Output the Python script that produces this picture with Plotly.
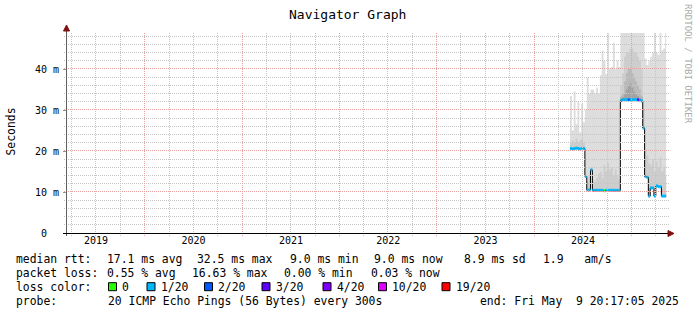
import math
import plotly.graph_objects as go
import pandas as pd

# ---------------- data ----------------
WEEK_START = "2024-05-14"          # first weekly row of the smokeping RRD
DATA_END = "2025-05-09 20:17:05"    # graph end time

# median round trip time per week (ms)
median_ms = [20.6, 20.5, 20.6, 20.7, 20.6, 20.5, 20.6, 20.6,
             13.8, 10.5, 10.5, 15.4, 10.4, 10.4, 10.4, 10.4, 10.4, 10.4, 10.3, 10.4,
             10.4, 10.4, 10.4, 10.4, 10.4, 10.4, 10.4,
             32.3, 32.5, 32.5, 32.5, 32.5, 32.5, 32.5, 32.5, 32.5, 32.5, 32.4, 32.2,
             25.6,
             13.8, 13.6, 9.0, 11.0, 11.0, 9.0, 11.5, 11.3, 11.3, 9.0, 9.0, 9.0]

# loss colour class per week (index into LOSS_LABELS)
loss_idx = [1, 1, 1, 1, 1, 1, 1, 1,
            1, 1, 1, 1, 1, 1, 1, 1, 1, 1, 0, 1,
            1, 1, 1, 1, 1, 1, 1,
            1, 1, 1, 1, 2, 1, 1, 1, 1, 3, 1, 1,
            1,
            1, 1, 1, 1, 1, 1, 1, 1, 1, 1, 1, 1]

# smoke: highest ping per week (ms)
smoke_top_ms = [33.4, 25.0, 34.5, 26.5, 32.0, 24.5, 31.5, 27.0,
                30.0, 38.0, 34.0, 35.0, 35.0, 34.0, 35.5, 34.0, 38.5, 44.5, 42.0, 38.7,
                48.8, 40.0, 40.5, 46.4, 40.0, 42.0, 40.5,
                48.8, 48.8, 48.8, 48.8, 48.8, 48.8, 48.8, 48.8, 48.8, 48.8, 48.8, 48.8,
                48.8,
                42.5, 41.0, 42.0, 43.0, 44.0, 48.8, 44.0, 43.5, 48.8, 44.5, 45.0, 48.8]

# smoke: upper ping band per week (ms)
smoke_mid_ms = [22.0, 22.5, 22.0, 23.0, 22.0, 22.5, 23.0, 22.0,
                14.0, 12.5, 14.0, 16.0, 13.0, 12.5, 13.5, 14.5, 15.0, 13.5, 16.5, 15.0,
                17.0, 15.5, 16.0, 14.0, 15.5, 14.0, 13.0,
                36.0, 39.0, 43.0, 44.0, 44.0, 45.0, 45.0, 44.0, 44.0, 43.0, 42.0, 40.0,
                30.0,
                20.0, 19.0, 17.0, 16.5, 18.0, 15.0, 17.5, 16.0, 18.5, 15.0, 16.0, 14.0]

# dense smoke during the high-latency period (weeks 27..39)
BLOCK_START = 27
smoke_dark_ms = [33.5, 34.0, 37.0, 39.0, 40.0, 40.0, 39.0, 38.0, 37.0, 36.0, 35.0, 33.5, 26.0]
smoke_darkest_ms = [33.0, 33.2, 33.8, 35.0, 36.0, 36.5, 35.5, 34.5, 33.8, 33.4, 33.0, 32.8, 25.6]

LOSS_LABELS = ["0", "1/20", "2/20", "3/20", "4/20", "10/20", "19/20"]
LOSS_COLORS = ["#26ff00", "#00b8ff", "#0059ff", "#5e00ff", "#7e00ff", "#dd00ff", "#ff0000"]

Y_TICKS = [0, 10, 20, 30, 40]
Y_TICK_TEXT = ["0\u00a0\u00a0", "10 m", "20 m", "30 m", "40 m"]
Y_RANGE = [0, 48.78]
X_RANGE = ["2019-03-15 07:00", "2025-05-13 00:00"]

TITLE = "Navigator Graph"
UNIT_LABEL = "Seconds"
WATERMARK = "RRDTOOL / TOBI OETIKER"

LEGEND_ROWS = [
    ["median rtt:", "17.1 ms avg", "32.5 ms max", "9.0 ms min", "9.0 ms now", "8.9 ms sd", "1.9   am/s"],
    ["packet loss:", "0.55 % avg", "16.63 % max", "0.00 % min", "0.03 % now"],
    ["probe:", "20 ICMP Echo Pings (56 Bytes) every 300s", "end: Fri May  9 20:17:05 2025"],
]
LOSS_ROW_LABEL = "loss color:"

# ---------------- layout geometry (pixels) ----------------
W, H = 697, 315
PL, PR, PT, PB = 67, 667, 33, 233
FONT = "DejaVu Sans Mono"

LEGEND_ROW_Y = [259.3, 272.7, 300.7]
LEGEND_ROW_X = [
    [16.7, 107.5, 198.0, 290.5, 375.0, 465.0, 544.0],
    [16.7, 107.5, 193.0, 285.0, 372.0],
    [16.7, 108.3, 481.0],
]
LOSS_ROW_Y = 286.7
LOSS_SQUARE_X = [108.0, 146.5, 204.0, 261.5, 322.5, 378.0, 441.5]


def px(x):
    return (x - PL) / (PR - PL)


def py(y):
    return (PB - y) / (PB - PT)


def nb(s):
    return s.replace(" ", "\u00a0")


T0, T1 = pd.Timestamp(X_RANGE[0]), pd.Timestamp(X_RANGE[1])


def xpix(d):
    return PL + (pd.Timestamp(d) - T0) / (T1 - T0) * (PR - PL)


def ypix(v):
    return PB - (v - Y_RANGE[0]) / (Y_RANGE[1] - Y_RANGE[0]) * (PB - PT)


def crisp(p):
    return math.floor(p) + 0.5


dates = list(pd.date_range(WEEK_START, periods=len(median_ms), freq="7D"))
step_x = dates + [pd.Timestamp(DATA_END)]


def ext(v):
    return list(v) + [v[-1]]


fig = go.Figure()

SMOKE_LIGHT = "#dddddd"
SMOKE_MID = "#cdcdcd"
SMOKE_DARK = "#b9b9b9"
SMOKE_DARKEST = "#a2a2a2"


def band(xs, base, top, color):
    fig.add_trace(go.Scatter(x=xs, y=ext(base), mode="lines", line=dict(width=0, shape="hv"),
                             hoverinfo="skip", showlegend=False))
    fig.add_trace(go.Scatter(x=xs, y=ext(top), mode="lines", line=dict(width=0, shape="hv"),
                             fill="tonexty", fillcolor=color, hoverinfo="skip", showlegend=False))


band(step_x, median_ms, smoke_top_ms, SMOKE_LIGHT)
band(step_x, median_ms, smoke_mid_ms, SMOKE_MID)
n_blk = len(smoke_dark_ms)
blk_x = dates[BLOCK_START:BLOCK_START + n_blk] + [dates[BLOCK_START + n_blk]]
blk_base = median_ms[BLOCK_START:BLOCK_START + n_blk]
band(blk_x, blk_base, smoke_dark_ms, SMOKE_DARK)
band(blk_x, blk_base, smoke_darkest_ms, SMOKE_DARKEST)

# median line (black steps), then loss-coloured horizontal pieces
fig.add_trace(go.Scatter(x=step_x, y=ext(median_ms), mode="lines",
                         line=dict(color="#000000", width=1, shape="hv"),
                         hoverinfo="skip", showlegend=False))
for k, col in enumerate(LOSS_COLORS):
    xs, ys = [], []
    for i, m in enumerate(median_ms):
        if loss_idx[i] == k:
            xs += [step_x[i], step_x[i + 1], None]
            ys += [m, m, None]
    if xs:
        fig.add_trace(go.Scatter(x=xs, y=ys, mode="lines", line=dict(color=col, width=3),
                                 hoverinfo="skip", showlegend=False))

# ---------------- grid (drawn above smoke, like rrdtool) ----------------
GRID_MINOR = "#c6c6c6"
GRID_MAJOR = "#e7a0a0"
DOT = "1px,1px"
shapes = []
for v in range(2, 49, 2):
    major = v % 10 == 0
    yy = py(crisp(ypix(v)))
    shapes.append(dict(type="line", xref="paper", yref="paper", x0=px(64), x1=px(669), y0=yy, y1=yy,
                       line=dict(color=GRID_MAJOR if major else GRID_MINOR, width=1, dash=DOT),
                       layer="above"))
for d in pd.date_range("2019-04-01", "2025-04-01", freq="QS"):
    major = d.month == 1
    xx = px(crisp(xpix(d)))
    shapes.append(dict(type="line", xref="paper", yref="paper", x0=xx, x1=xx, y0=py(236), y1=1,
                       line=dict(color=GRID_MAJOR if major else GRID_MINOR, width=1, dash=DOT),
                       layer="above"))
# axes lines and arrows
AX_RED = "#7f1010"
shapes.append(dict(type="line", xref="paper", yref="paper", x0=px(66.5), x1=px(66.5), y0=py(236), y1=py(29),
                   line=dict(color="#606060", width=1), layer="above"))
shapes.append(dict(type="line", xref="paper", yref="paper", x0=px(63), x1=px(669), y0=py(233.5), y1=py(233.5),
                   line=dict(color="#000000", width=1), layer="above"))
shapes.append(dict(type="path", xref="paper", yref="paper",
                   path=f"M {px(63.5)} {py(31)} L {px(69.5)} {py(31)} L {px(66.5)} {py(25)} Z",
                   fillcolor=AX_RED, line=dict(color=AX_RED, width=1), layer="above"))
shapes.append(dict(type="path", xref="paper", yref="paper",
                   path=f"M {px(668)} {py(230.5)} L {px(668)} {py(236.5)} L {px(674)} {py(233.5)} Z",
                   fillcolor=AX_RED, line=dict(color=AX_RED, width=1), layer="above"))

# loss colour squares
for k, xs in enumerate(LOSS_SQUARE_X):
    shapes.append(dict(type="rect", xref="paper", yref="paper",
                       x0=px(xs + 0.5), x1=px(xs + 8.5), y0=py(LOSS_ROW_Y + 4), y1=py(LOSS_ROW_Y - 4),
                       fillcolor=LOSS_COLORS[k], line=dict(color="#000000", width=1)))

# ---------------- texts ----------------
LEG_FS = 11.4
ann = []


def text(s, x, y, size=LEG_FS, anchor="left", color="#000000", angle=0):
    ann.append(dict(text=nb(s), x=px(x), y=py(y), xref="paper", yref="paper",
                    xanchor=anchor, yanchor="middle", showarrow=False, textangle=angle,
                    borderpad=0, borderwidth=0,
                    font=dict(family=FONT, size=size, color=color)))


text(TITLE, 347, 14, size=13, anchor="center")
text(UNIT_LABEL, 10.5, 132, size=11.4, anchor="center", angle=-90)
text(WATERMARK, 688, 64, size=9, anchor="center", color="#aaaaaa", angle=90)

for row, xs, y in zip(LEGEND_ROWS[:2], LEGEND_ROW_X[:2], LEGEND_ROW_Y[:2]):
    for s, x in zip(row, xs):
        text(s, x - 0.7, y)
text(LOSS_ROW_LABEL, 16.0, LOSS_ROW_Y)
for k, xs in enumerate(LOSS_SQUARE_X):
    text(LOSS_LABELS[k], xs + 14.0, LOSS_ROW_Y)
for s, x in zip(LEGEND_ROWS[2], LEGEND_ROW_X[2]):
    text(s, x - 0.7, LEGEND_ROW_Y[2])

fig.update_layout(
    width=W, height=H,
    margin=dict(l=PL, r=W - PR, t=PT, b=H - PB, pad=0),
    paper_bgcolor="#ffffff", plot_bgcolor="#ffffff",
    showlegend=False,
    shapes=shapes, annotations=ann,
    xaxis=dict(type="date", range=X_RANGE, showgrid=False, zeroline=False, showline=False,
               ticks="", tickmode="linear", tick0="2019-01-01", dtick="M12",
               ticklabelmode="period", tickformat="%Y",
               tickfont=dict(family=FONT, size=10, color="#000000")),
    yaxis=dict(range=Y_RANGE, showgrid=False, zeroline=False, showline=False,
               tickmode="array", tickvals=Y_TICKS, ticktext=Y_TICK_TEXT,
               ticks="outside", ticklen=3, tickcolor="#909090", ticklabelstandoff=2,
               tickfont=dict(family=FONT, size=10, color="#000000")),
)

fig.write_html("out.html")
